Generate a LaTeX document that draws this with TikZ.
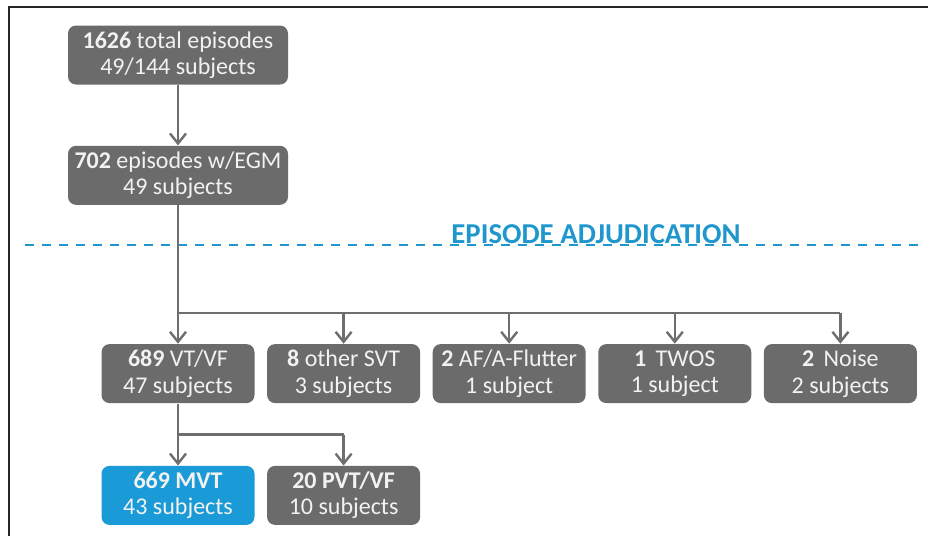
\documentclass[tikz,border=0pt]{standalone}
\usepackage{fontspec}
\setmainfont{Carlito}
\usepackage{tikz}
\usetikzlibrary{arrows.meta,positioning}

\definecolor{boxgray}{HTML}{6B6B6B}
\definecolor{linegray}{HTML}{6E6E6E}
\definecolor{mvtblue}{HTML}{1A9AD6}
\definecolor{adjblue}{HTML}{1F97CC}

\begin{document}
\begin{tikzpicture}[>={Straight Barb[length=5pt,width=8pt]},
    box/.style={rectangle,rounded corners=4pt,fill=boxgray,text=white!95!black,align=center,
      minimum height=29.5pt,inner sep=0pt,font=\fontsize{12}{13.2}\selectfont},
    wide/.style={box,minimum width=110pt},
    small/.style={box,minimum width=76.5pt},
    link/.style={draw=linegray,line width=1.2pt}]
    \useasboundingbox (0,0) rectangle (464pt,-268pt);

    % frame
    \draw[line width=1pt,draw=black!85] (4.5pt,-268pt) -- (4.5pt,-3.5pt) -- (464pt,-3.5pt);

    \node[wide]  (total)               at (89pt,-27.5pt) {\textbf{1626} total episodes\\49/144 subjects};
    \node[wide]  (egm)   [below=30.25pt of total] {\textbf{702} episodes w/EGM\\49 subjects};

    \node[small] (vtvf)  [below=69.25pt of egm]   {\textbf{689} VT/VF\\47 subjects};
    \node[small] (svt)   [right=5.9pt of vtvf]    {\textbf{8} other SVT\\3 subjects};
    \node[small] (af)    [right=5.9pt of svt]     {\textbf{2} AF/A-Flutter\\1 subject};
    \node[small] (twos)  [right=5.9pt of af]      {\textbf{1}\, TWOS\\1 subject};
    \node[small] (noise) [right=5.9pt of twos]    {\textbf{2}\, Noise\\2 subjects};

    \node[small,fill=mvtblue] (mvt) [below=31pt of vtvf] {\textbf{669 MVT}\\43 subjects};
    \node[small] (pvt)   [right=5.9pt of mvt]     {\textbf{20 PVT/VF}\\10 subjects};

    % adjudication line
    \draw[draw=adjblue,line width=1pt,dash pattern=on 4.5pt off 4pt] (12.5pt,-122.5pt) -- (462pt,-122.5pt);
    \node[text=adjblue,font=\fontsize{14.4}{16}\selectfont\bfseries,anchor=base] (adj) at (298pt,-121.5pt) {EPISODE ADJUDICATION};

    \coordinate[above=15.5pt of vtvf] (split);
    \coordinate[below=15.5pt of vtvf] (split2);

    \draw[link,->] (total) -- (egm);
    \draw[link] (egm) -- (split) -- (split -| noise);
    \foreach \n in {vtvf,svt,af,twos,noise}
        \draw[link,->] (split -| \n.north) -- (\n);

    \draw[link] (vtvf) -- (split2) -- (split2 -| pvt);
    \foreach \n in {mvt,pvt}
        \draw[link,->] (split2 -| \n.north) -- (\n);
\end{tikzpicture}
\end{document}
